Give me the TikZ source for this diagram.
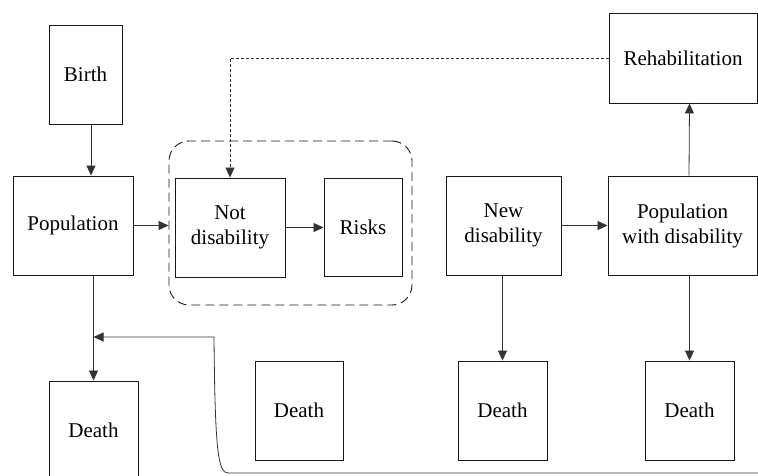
\documentclass[tikz,border=0pt]{standalone}
\usepackage{fontspec}
\setmainfont{Liberation Serif}
\usetikzlibrary{arrows.meta}
\begin{document}
\begin{tikzpicture}[x=1pt,y=-1pt,
    box/.style={draw=black!90,line width=0.9pt,align=center,inner sep=0pt,
      font=\rmfamily\fontsize{21}{25}\selectfont},
    flow/.style={draw=black!80,line width=0.8pt,-{Triangle[length=10pt,width=9pt]}},
    backflow/.style={flow,dash pattern=on 3pt off 2pt},
    groupbox/.style={draw=black!90,line width=0.9pt,rounded corners=20pt,
      dash pattern=on 9pt off 5pt}]
    \useasboundingbox (0,0) rectangle (758,476);

    % boxes
    \node[box,minimum width=73pt,minimum height=99pt] (Birth) at (85.5,74.5) {Birth};
    \node[box,minimum width=120pt,minimum height=99pt] (Pop) at (73,225.5) {Population};
    \node[groupbox,minimum width=243pt,minimum height=164pt] (grp) at (290.5,223) {};
    \node[box,minimum width=110pt,minimum height=99pt] (NotDis) at (230,227.5) {Not\\disability};
    \node[box,minimum width=78pt,minimum height=98pt] (Risks) at (363,227) {Risks};
    \node[box,minimum width=115pt,minimum height=99pt] (NewDis) at (503.5,225.5) {New\\disability};
    \node[box,minimum width=149pt,minimum height=99pt] (PopDis) at (682.5,225.5) {Population\\with disability};
    \node[box,minimum width=148pt,minimum height=90pt] (Rehab) at (683,58) {Rehabilitation};
    \node[box,minimum width=89pt,minimum height=98pt] (D1) at (93.5,430) {Death};
    \node[box,minimum width=88pt,minimum height=99pt] (D2) at (299,410.5) {Death};
    \node[box,minimum width=89pt,minimum height=99pt] (D3) at (502.5,410.5) {Death};
    \node[box,minimum width=89pt,minimum height=99pt] (D4) at (689.5,410.5) {Death};

    % flows
    \draw[flow] ([xshift=5.5pt]Birth.south) -- ([xshift=5.5pt]Birth.south |- Pop.north);
    \draw[flow] (Pop.east) -- (Pop.east -| grp.west);
    \draw[flow] (NotDis.east) -- (NotDis.east -| Risks.west);
    \draw[flow] (NewDis.east) -- (PopDis.west);
    \draw[flow] ([xshift=6.5pt]PopDis.north) -- ([xshift=6.5pt]Rehab.south);
    \draw[flow] (D1.north |- Pop.south) -- (D1.north);
    \draw[flow] (D3.north |- NewDis.south) -- (D3.north);
    \draw[flow] (D4.north |- PopDis.south) -- (D4.north);
    \draw[backflow] (Rehab.west) -| (NotDis.north);

    % return line
    \coordinate (back) at (758,473);
    \coordinate (bend) at (214,337);
    \draw[flow] (back) -- (228,473) .. controls (218,473) and (215,450) .. (bend)
      -- (bend -| D1.north);
\end{tikzpicture}
\end{document}
